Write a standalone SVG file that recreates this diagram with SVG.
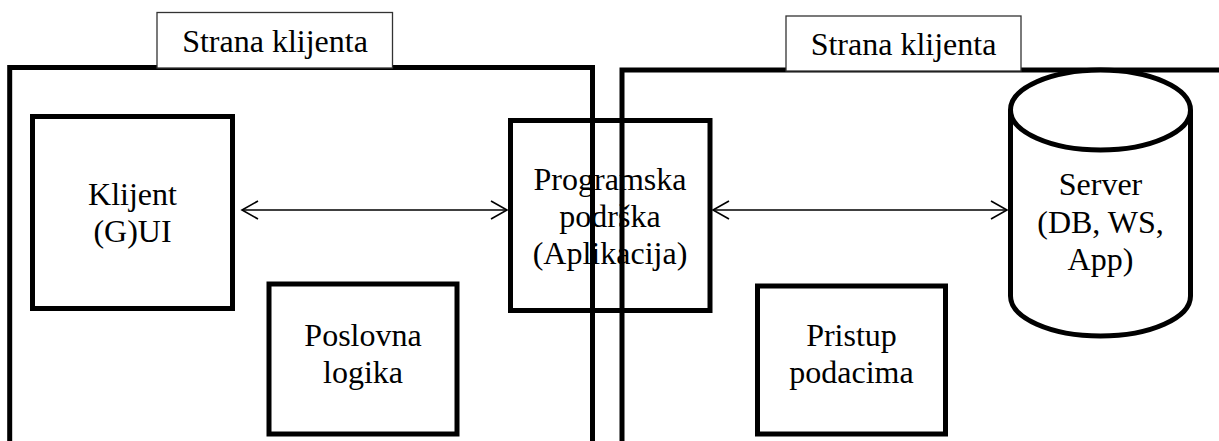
<svg xmlns="http://www.w3.org/2000/svg" width="1219" height="441" viewBox="0 0 1219 441">
<style>
.box{fill:#fff;stroke:#000;stroke-width:5}
.frame{fill:none;stroke:#000;stroke-width:5}
.label{fill:#fff;stroke:#333;stroke-width:1.3}
text{font-family:"Liberation Serif","Times New Roman",serif;font-size:32px;fill:#000;text-anchor:middle}
.conn{fill:none;stroke:#000;stroke-width:1.6}
</style>
<defs>
<marker id="arr" viewBox="0 0 20 20" refX="18" refY="10" markerWidth="20" markerHeight="20" markerUnits="userSpaceOnUse" orient="auto-start-reverse">
<path d="M2,1 L18,10 L2,19" fill="none" stroke="#000" stroke-width="1.6"/>
</marker>
</defs>
<rect width="1219" height="441" fill="#fff"/>
<g id="klijent">
<rect class="box" x="32.5" y="116.5" width="200" height="192"/>
<text x="132.5" y="205">Klijent</text>
<text x="132.5" y="242">(G)UI</text>
</g>
<g id="poslovna">
<rect class="box" x="269" y="284" width="188" height="150"/>
<text x="363" y="346">Poslovna</text>
<text x="363" y="383">logika</text>
</g>
<g id="programska">
<rect class="box" x="510.5" y="120.5" width="199.5" height="190"/>
<text x="610" y="190">Programska</text>
<text x="610" y="227">podrška</text>
<text x="610" y="264">(Aplikacija)</text>
</g>
<g id="pristup">
<rect class="box" x="757.5" y="286" width="188" height="148"/>
<text x="851.5" y="346">Pristup</text>
<text x="851.5" y="383">podacima</text>
</g>
<g id="frames">
<path class="frame" d="M9.7,445 V67.5 H592.5 V445"/>
<path class="frame" d="M622,445 V70 H1225"/>
</g>
<g id="server">
<path class="box" d="M1010.5,110 V296 A90,40 0 0 0 1190.5,296 V110"/>
<ellipse class="box" cx="1100.5" cy="110" rx="90" ry="40"/>
<text x="1100.5" y="195">Server</text>
<text x="1100.5" y="233">(DB, WS,</text>
<text x="1100.5" y="270">App)</text>
</g>
<g id="label1">
<rect class="label" x="157" y="12.5" width="235.5" height="55.5"/>
<text x="275" y="52" font-size="33">Strana klijenta</text>
</g>
<g id="label2">
<rect class="label" x="786" y="16" width="235" height="55"/>
<text x="903.5" y="55" font-size="33">Strana klijenta</text>
</g>
<g id="connectors">
<line class="conn" x1="242" y1="210" x2="507" y2="210" marker-start="url(#arr)" marker-end="url(#arr)"/>
<line class="conn" x1="713" y1="210" x2="1007" y2="210" marker-start="url(#arr)" marker-end="url(#arr)"/>
</g>
</svg>
